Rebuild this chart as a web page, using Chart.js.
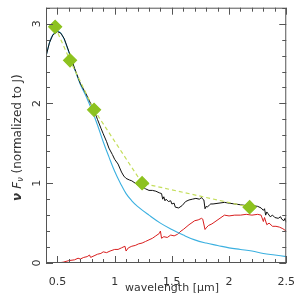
<!DOCTYPE html>
<html>
<head>
  <title>SED</title>
  <style>
    html, body { margin: 0; padding: 0; background: #fff; }
    #wrap { width: 300px; height: 300px; }
  </style>
</head>
<body>
  <div id="wrap"><canvas id="chart" width="300" height="300"></canvas></div>

  <script src="https://cdn.jsdelivr.net/npm/chart.js"></script>
  <script>
    // tick labels
    const xTicks = [0.5, 1, 1.5, 2, 2.5];
    const yTicks = [0, 1, 2, 3];

    // photometry points (diamonds)
    const photX = [0.48, 0.61, 0.82, 1.24, 2.18];
    const photY = [2.96, 2.54, 1.92, 1.00, 0.70];

    // blue model curve
    const blueX = [0.40, 0.43, 0.46, 0.50, 0.53, 0.56, 0.60, 0.65, 0.70, 0.75, 0.80, 0.85, 0.90, 0.95, 1.00, 1.05, 1.10, 1.15, 1.20, 1.30, 1.40, 1.50, 1.60, 1.70, 1.80, 1.90, 2.00, 2.10, 2.20, 2.30, 2.40, 2.50];
    const blueY = [2.59, 2.76, 2.86, 2.905, 2.88, 2.80, 2.64, 2.43, 2.24, 2.09, 1.92, 1.73, 1.52, 1.33, 1.15, 1.00, 0.87, 0.78, 0.71, 0.60, 0.50, 0.42, 0.35, 0.29, 0.25, 0.22, 0.19, 0.17, 0.15, 0.12, 0.10, 0.08];

    // black spectrum
    const blackX = [0.40, 0.43, 0.46, 0.50, 0.53, 0.56, 0.60, 0.65, 0.70, 0.75, 0.78, 0.80, 0.82, 0.85, 0.88, 0.90, 0.93, 0.95, 0.98, 1.00, 1.03, 1.06, 1.08, 1.10, 1.13, 1.15, 1.18, 1.21, 1.24, 1.27, 1.30, 1.33, 1.36, 1.39, 1.41, 1.42, 1.43, 1.44, 1.45, 1.47, 1.49, 1.50, 1.52, 1.53, 1.56, 1.59, 1.62, 1.65, 1.68, 1.71, 1.74, 1.76, 1.77, 1.78, 1.79, 1.80, 1.81, 1.83, 1.84, 1.86, 1.96, 2.00, 2.05, 2.10, 2.15, 2.20, 2.25, 2.28, 2.30, 2.31, 2.32, 2.33, 2.34, 2.36, 2.38, 2.40, 2.43, 2.45, 2.46, 2.48, 2.49, 2.50];
    const blackY = [2.59, 2.76, 2.86, 2.90, 2.88, 2.81, 2.65, 2.44, 2.25, 2.12, 2.03, 1.97, 1.91, 1.80, 1.69, 1.62, 1.52, 1.44, 1.36, 1.30, 1.24, 1.14, 1.09, 1.06, 1.04, 1.03, 1.00, 0.97, 0.96, 0.93, 0.91, 0.91, 0.90, 0.88, 0.87, 0.80, 0.83, 0.78, 0.80, 0.77, 0.78, 0.74, 0.75, 0.70, 0.69, 0.72, 0.77, 0.79, 0.80, 0.81, 0.80, 0.82, 0.80, 0.79, 0.68, 0.71, 0.70, 0.73, 0.74, 0.74, 0.76, 0.75, 0.74, 0.73, 0.72, 0.72, 0.71, 0.69, 0.66, 0.68, 0.60, 0.64, 0.62, 0.58, 0.60, 0.57, 0.56, 0.58, 0.55, 0.53, 0.56, 0.51];

    // red spectrum
    const redX = [0.40, 0.50, 0.55, 0.60, 0.65, 0.68, 0.70, 0.73, 0.76, 0.78, 0.79, 0.82, 0.85, 0.88, 0.90, 0.93, 0.96, 1.00, 1.03, 1.06, 1.09, 1.10, 1.12, 1.15, 1.18, 1.21, 1.24, 1.27, 1.30, 1.33, 1.36, 1.39, 1.40, 1.41, 1.43, 1.46, 1.49, 1.52, 1.55, 1.58, 1.60, 1.65, 1.70, 1.73, 1.76, 1.77, 1.79, 1.80, 1.82, 1.85, 1.86, 1.96, 2.00, 2.05, 2.10, 2.15, 2.20, 2.25, 2.28, 2.30, 2.31, 2.33, 2.35, 2.38, 2.41, 2.44, 2.47, 2.50];
    const redY = [0.00, 0.00, 0.01, 0.03, 0.04, 0.06, 0.05, 0.07, 0.08, 0.10, 0.07, 0.09, 0.11, 0.12, 0.14, 0.13, 0.15, 0.17, 0.17, 0.19, 0.21, 0.15, 0.19, 0.21, 0.22, 0.24, 0.25, 0.27, 0.29, 0.31, 0.34, 0.37, 0.40, 0.31, 0.33, 0.32, 0.35, 0.34, 0.36, 0.40, 0.42, 0.48, 0.53, 0.54, 0.56, 0.55, 0.42, 0.44, 0.47, 0.49, 0.50, 0.60, 0.59, 0.60, 0.60, 0.61, 0.60, 0.61, 0.60, 0.52, 0.57, 0.48, 0.50, 0.46, 0.46, 0.45, 0.43, 0.40];

    function pts(xs, ys) {
      return xs.map((v, i) => ({ x: v, y: ys[i] }));
    }

    // cadre avec petites graduations tournées vers l'intérieur + titres d'axes
    const frameTicks = {
      id: 'frameTicks',
      afterDraw(chart) {
        const { ctx, chartArea: a, scales: { x, y } } = chart;
        ctx.save();
        ctx.strokeStyle = '#555';
        ctx.lineWidth = 1;
        ctx.strokeRect(a.left + 0.5, a.top + 0.5, a.right - a.left - 1, a.bottom - a.top - 1);
        ctx.beginPath();
        for (let i = 4; i <= 25; i++) {
          const px = Math.round(x.getPixelForValue(i / 10)) + 0.5;
          const len = (i % 5 === 0) ? 7 : 4;
          ctx.moveTo(px, a.bottom); ctx.lineTo(px, a.bottom - len);
          ctx.moveTo(px, a.top); ctx.lineTo(px, a.top + len);
        }
        for (let i = 0; i <= 16; i++) {
          const py = Math.round(y.getPixelForValue(i / 5)) + 0.5;
          const len = (i % 5 === 0) ? 7 : 4;
          ctx.moveTo(a.left, py); ctx.lineTo(a.left + len, py);
          ctx.moveTo(a.right, py); ctx.lineTo(a.right - len, py);
        }
        ctx.stroke();

        // titre de l'axe x
        ctx.fillStyle = '#333';
        ctx.font = '11px "DejaVu Sans"';
        ctx.textAlign = 'center';
        ctx.textBaseline = 'middle';
        ctx.fillText('wavelength [μm]', 172, 288);

        // titre de l'axe y avec indice, écrit de bas en haut
        ctx.translate(18, 201);
        ctx.rotate(-Math.PI / 2);
        ctx.textAlign = 'left';
        const big = '12px "DejaVu Sans"';
        const small = '8px "DejaVu Sans"';
        let cx = 0;
        ctx.font = 'italic bold ' + big;
        ctx.fillText('ν', cx, 0); cx += ctx.measureText('ν ').width;
        ctx.font = 'italic ' + big;
        ctx.fillText('F', cx, 0); cx += ctx.measureText('F').width;
        ctx.font = 'italic ' + small;
        ctx.fillText('ν', cx, 3); cx += ctx.measureText('ν').width;
        ctx.font = big;
        ctx.fillText(' (normalized to J)', cx, 0);
        ctx.restore();
      }
    };

    new Chart(document.getElementById('chart'), {
      type: 'scatter',
      data: {
        datasets: [
          {
            data: pts(photX, photY),
            showLine: true,
            borderColor: '#c4de5c',
            borderWidth: 1.2,
            borderDash: [4, 3],
            pointStyle: 'rectRot',
            pointRadius: 6.5,
            pointBackgroundColor: '#8dc21f',
            pointBorderColor: '#8dc21f',
            order: 0
          },
          {
            data: pts(blackX, blackY),
            showLine: true,
            borderColor: '#111',
            borderWidth: 1,
            pointRadius: 0,
            order: 1
          },
          {
            data: pts(blueX, blueY),
            showLine: true,
            borderColor: '#3bb0e0',
            borderWidth: 1.1,
            pointRadius: 0,
            tension: 0.4,
            order: 2
          },
          {
            data: pts(redX, redY),
            showLine: true,
            borderColor: '#d81e1e',
            borderWidth: 1,
            pointRadius: 0,
            order: 3
          }
        ]
      },
      options: {
        responsive: false,
        animation: false,
        events: [],
        layout: { padding: { top: 7, right: 7, left: 0, bottom: 0 } },
        plugins: { legend: { display: false }, tooltip: { enabled: false } },
        scales: {
          x: {
            type: 'linear',
            min: 0.4,
            max: 2.5,
            afterBuildTicks: s => { s.ticks = xTicks.map(v => ({ value: v })); },
            afterFit: s => { s.height = 37; },
            grid: { display: false },
            border: { display: false },
            ticks: {
              color: '#333',
              font: { family: 'DejaVu Sans', size: 11 },
              padding: 5,
              maxRotation: 0,
              callback: v => String(v)
            }
          },
          y: {
            type: 'linear',
            min: 0,
            max: 3.2,
            afterBuildTicks: s => { s.ticks = yTicks.map(v => ({ value: v })); },
            afterFit: s => { s.width = 46; },
            grid: { display: false },
            border: { display: false },
            ticks: {
              color: '#333',
              font: { family: 'DejaVu Sans', size: 11 },
              padding: -3,
              minRotation: 90,
              maxRotation: 90,
              crossAlign: 'center',
              callback: v => String(v)
            }
          }
        }
      },
      plugins: [frameTicks]
    });
  </script>
</body>
</html>
